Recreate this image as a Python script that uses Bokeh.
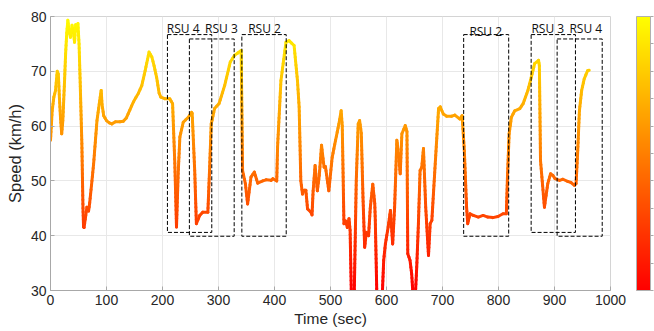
import numpy as np
from bokeh.plotting import figure
from bokeh.models import (ColumnDataSource, LinearColorMapper, ColorBar,
                          SingleIntervalTicker, FixedTicker, Range1d)
from bokeh.transform import linear_cmap
from bokeh.core.properties import value
from bokeh.embed import file_html
from bokeh.resources import INLINE

# ---- data ----
time_sec = [0, 3, 6, 9, 12, 14, 16, 18, 20, 22, 25, 27, 29, 31, 33, 35.5, 38.5, 41, 43, 45, 47, 49,
            51, 53, 56, 58, 59, 60, 62, 65, 68, 70, 74, 77, 83, 87, 90.5, 92, 95, 100, 105, 109.5,
            116, 124, 130, 135.5, 148, 157, 163, 169, 176, 181, 185, 189.5, 194, 197, 204, 213, 218,
            222, 225, 228, 231, 237, 246, 252, 253, 257.5, 260.5, 266.5, 272, 281, 284, 287, 293, 301,
            311, 321, 328.5, 340.5, 343, 348, 352, 358, 364, 370, 379, 385, 394, 397, 404, 405.5,
            411.5, 420.5, 426, 435, 441, 444, 447, 450, 453, 456, 459, 465, 467, 469, 472.5, 476.5,
            480, 484, 488.5, 491, 497, 503, 509, 515, 519, 521, 524, 527, 530, 533, 535, 537.5, 542,
            546, 549.5, 552, 555, 558, 561, 564, 568, 571, 573, 575.5, 579, 580, 583, 592, 595, 598,
            603, 607, 611, 614.5, 618.5, 620.5, 624.5, 627.5, 633.5, 636.5, 638, 642, 645, 648, 651,
            654, 657, 660, 663, 666, 670, 675, 678, 681, 687, 693, 696, 701.5, 707.5, 716, 722, 731,
            735, 739, 743, 745, 749, 755, 764, 772.5, 781, 790, 799, 808, 814, 816, 819, 823, 829,
            838, 844, 852.5, 858.5, 864.5, 871.5, 873, 875, 877.5, 882, 888, 893, 897, 901, 909, 915,
            923.5, 929.5, 935.5, 938.5, 941.5, 944.5, 948.5, 953, 959, 962]
speed_kmh = [57.4, 62.8, 65.3, 66.5, 70.0, 69.5, 65.0, 61.3, 58.6, 61.0, 68.0, 73.2, 77.0, 79.3, 77.5,
             76.2, 78.4, 77.0, 75.3, 78.5, 77.5, 78.7, 75.0, 68.0, 56.8, 45.0, 41.6, 41.5, 43.0, 45.2,
             44.5, 46.0, 50.0, 53.1, 61.0, 64.0, 66.5, 64.0, 61.9, 61.0, 60.6, 60.4, 60.8, 60.8, 60.9,
             61.5, 64.4, 66.0, 67.4, 70.1, 73.5, 72.6, 71.0, 68.9, 66.0, 65.3, 65.0, 65.0, 64.1, 53.2,
             41.6, 51.3, 58.0, 60.7, 61.6, 62.5, 62.3, 51.9, 42.2, 43.7, 44.3, 44.3, 51.9, 60.4, 63.2,
             64.1, 67.4, 71.7, 72.9, 73.8, 51.9, 49.5, 45.8, 50.7, 51.6, 49.6, 50.0, 50.2, 50.1, 50.4,
             50.0, 56.2, 68.3, 75.3, 75.6, 74.7, 68.3, 63.5, 50.0, 47.6, 48.3, 48.3, 44.9, 44.3, 43.8,
             48.2, 52.8, 48.2, 51.0, 56.5, 52.5, 52.6, 48.2, 54.3, 57.4, 60.4, 62.8, 60.0, 42.2, 42.7,
             41.5, 43.1, 41.0, 28.0, 27.0, 50.0, 60.4, 61.0, 58.7, 47.0, 37.9, 40.6, 40.0, 45.0, 47.0,
             49.4, 45.9, 42.8, 28.0, 28.0, 35.5, 38.5, 41.6, 44.6, 38.5, 45.2, 57.4, 55.8, 51.3, 58.6,
             60.1, 59.0, 36.7, 35.5, 33.0, 28.0, 28.0, 34.3, 42.2, 51.9, 52.5, 55.9, 45.2, 36.4, 42.2,
             42.8, 53.1, 63.2, 63.5, 62.2, 61.8, 61.8, 62.0, 61.3, 61.9, 55.5, 45.2, 42.2, 44.0, 43.7,
             43.4, 43.7, 43.4, 43.3, 43.5, 44.0, 44.0, 50.7, 58.6, 61.6, 62.8, 63.2, 64.1, 66.5, 68.9,
             71.4, 72.0, 71.0, 53.7, 50.7, 45.2, 49.5, 51.3, 51.0, 50.4, 50.1, 50.3, 49.9, 49.7, 49.2,
             49.5, 55.5, 62.8, 66.5, 68.6, 70.1, 70.2]

# RSU zones: left/right time, bottom/top speed
rsu_names = ["RSU 4", "RSU 3", "RSU 2", "RSU 2", "RSU 3", "RSU 4"]
rsu_t0 = [208.8, 248, 341.7, 737.8, 858.3, 904.7]
rsu_t1 = [288, 328, 420.9, 818.2, 937.4, 985.2]
rsu_v0 = [40.6, 39.9, 39.9, 39.9, 40.6, 39.9]
rsu_v1 = [76.7, 75.9, 76.7, 76.7, 76.7, 75.9]
rsu_label_t = [207.7, 276, 353, 748, 858.8, 926.7]
rsu_label_v = [77.8, 77.8, 77.8, 77.3, 77.8, 77.8]

x_ticks = [0, 100, 200, 300, 400, 500, 600, 700, 800, 900, 1000]
y_ticks = [30, 40, 50, 60, 70, 80]

# ---- colour map (red -> yellow) ----
palette = ["#ff%02x00" % i for i in range(256)]
v_low, v_high = 30, 80

# split each straight piece of the trace into short parts so the colour follows speed
x0, y0, x1, y1, vm = [], [], [], [], []
for i in range(len(time_sec) - 1):
    ta, tb = time_sec[i], time_sec[i + 1]
    va, vb = speed_kmh[i], speed_kmh[i + 1]
    n = int(max(1, np.ceil(abs(vb - va) / 0.8)))
    f = np.linspace(0, 1, n + 1)
    ts = ta + (tb - ta) * f
    vs = va + (vb - va) * f
    for k in range(n):
        x0.append(ts[k]); x1.append(ts[k + 1])
        y0.append(vs[k]); y1.append(vs[k + 1])
        vm.append(0.5 * (vs[k] + vs[k + 1]))
seg = ColumnDataSource(dict(x0=x0, y0=y0, x1=x1, y1=y1, vm=vm))

p = figure(width=654, height=331, output_backend="svg", toolbar_location=None,
           x_range=Range1d(0, 1000), y_range=Range1d(30, 80),
           min_border_left=50, min_border_right=44, min_border_top=16, min_border_bottom=41)
p.background_fill_color = "white"
p.outline_line_color = "#d4d4d4"

p.segment("x0", "y0", "x1", "y1", source=seg, line_width=3.0, line_cap="round",
          color=linear_cmap("vm", palette, v_low, v_high))

# RSU boxes
box = ColumnDataSource(dict(left=rsu_t0, right=rsu_t1, bottom=rsu_v0, top=rsu_v1))
p.quad(left="left", right="right", bottom="bottom", top="top", source=box,
       fill_color=None, line_color="black", line_width=1, line_dash="4 2")
lab = ColumnDataSource(dict(x=rsu_label_t, y=rsu_label_v, t=rsu_names))
p.text(x="x", y="y", text="t", source=lab, text_font=value("Open Sans"),
       text_font_size="12px", text_color="#111111", text_baseline="alphabetic",
       text_align="left")

# axes
for ax in (p.xaxis[0], p.yaxis[0]):
    ax.axis_line_color = "#a8a8a8"
    ax.major_tick_line_color = "#a8a8a8"
    ax.major_tick_in = 4
    ax.major_tick_out = 0
    ax.minor_tick_line_color = None
    ax.major_label_text_font = "Liberation Sans"
    ax.major_label_text_font_size = "14px"
    ax.major_label_text_color = "#262626"
    ax.major_label_standoff = 4
    ax.axis_label_text_font = "Liberation Sans"
    ax.axis_label_text_font_style = "normal"
    ax.axis_label_text_color = "#262626"
p.xaxis.ticker = FixedTicker(ticks=x_ticks)
p.yaxis.ticker = FixedTicker(ticks=y_ticks)
p.yaxis.axis_label = "Speed (km/h)"
p.yaxis.axis_label_text_font_size = "16.5px"
p.yaxis.axis_label_standoff = 4
p.xaxis.axis_label = "Time (sec)"
p.xaxis.axis_label_text_font_size = "15.5px"
p.xaxis.axis_label_standoff = 2

p.xgrid.grid_line_color = "#e8e8e8"
p.ygrid.grid_line_color = "#e8e8e8"

mapper = LinearColorMapper(palette=palette, low=v_low, high=v_high)
cb = ColorBar(color_mapper=mapper, width=14, height=274, location=(586, 0),
              padding=0, margin=0, ticker=SingleIntervalTicker(interval=5),
              major_tick_in=0, major_tick_out=3, major_tick_line_color="#a8a8a8",
              bar_line_color="#b0b0b0", major_label_text_font_size="13px",
              major_label_text_color="#262626", label_standoff=4,
              background_fill_alpha=0, border_line_color=None)
p.add_layout(cb)

open("out.html", "w").write(file_html(p, INLINE))
